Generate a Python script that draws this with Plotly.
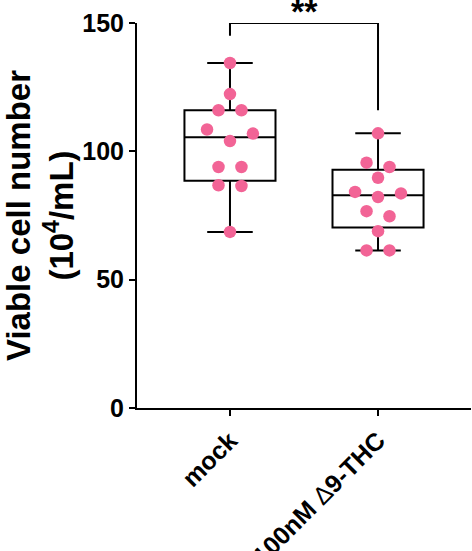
import numpy as np
import plotly.graph_objects as go

# Viable cell counts (10^4 cells/mL), one value per replicate
categories = ["mock", "100nM Δ9-THC"]
mock_counts = [134.4, 122.3, 116.0, 116.0, 108.5, 106.9, 104.0, 93.9, 93.9, 86.8, 86.5, 68.6]
thc_counts = [107.0, 95.6, 93.9, 89.7, 84.2, 83.6, 82.2, 76.7, 74.7, 68.9, 61.4, 61.4]
y_ticks = [0, 50, 100, 150]
significance = "**"

groups = [mock_counts, thc_counts]
tick_text = ["mock", "100nM <span style=\"font-weight:normal\">Δ</span>9-THC"]

PINK = "#F26496"
FONT = "Liberation Sans Narrow, Liberation Sans, Arial, sans-serif"
BOX_WIDTH = 0.615      # x units
SWARM_STEP = 0.155     # horizontal spacing between neighbouring dots, x units
CLUSTER_GAP = 5.0      # values closer than this share a row


def swarm_offsets(values, step, gap):
    """Centre each row of near-equal values around the group position."""
    order = sorted(range(len(values)), key=lambda i: -values[i])
    rows, current = [], []
    for idx in order:
        if current and values[current[0]] - values[idx] > gap:
            rows.append(current)
            current = []
        current.append(idx)
    rows.append(current)

    offsets = np.zeros(len(values))
    for row in rows:
        n = len(row)
        slots = []
        if n % 2 == 0:
            for k in range(n // 2):
                slots += [-(k + 0.5), k + 0.5]
        else:
            for k in range(n // 2):
                slots += [-(k + 1), k + 1]
            slots.append(0)
        for idx, s in zip(row, slots):
            offsets[idx] = s * step
    return offsets


fig = go.Figure()
for i, vals in enumerate(groups):
    arr = np.asarray(vals)
    q1, med, q3 = np.percentile(arr, [25, 50, 75], method="weibull")
    fig.add_trace(go.Box(
        x=[i], q1=[q1], median=[med], q3=[q3],
        lowerfence=[arr.min()], upperfence=[arr.max()],
        width=BOX_WIDTH, whiskerwidth=0.5,
        line=dict(color="black", width=2),
        fillcolor="rgba(0,0,0,0)",
        boxpoints=False, showlegend=False, hoverinfo="skip",
    ))
    fig.add_trace(go.Scatter(
        x=i + swarm_offsets(vals, SWARM_STEP, CLUSTER_GAP), y=vals,
        mode="markers", marker=dict(size=12.5, color=PINK),
        showlegend=False, cliponaxis=False, hoverinfo="skip",
    ))

# Significance bracket between the two groups
bracket_top = 150
left_end, right_end = 145, 116
fig.add_shape(type="path",
              path=f"M 0 {left_end} L 0 {bracket_top} L 1 {bracket_top} L 1 {right_end}",
              line=dict(color="black", width=2), layer="above")
fig.add_annotation(x=0.5, y=bracket_top, text=significance, showarrow=False,
                   yanchor="bottom", yshift=-9,
                   font=dict(family=FONT, size=34, color="black", weight="bold"))

fig.update_layout(
    width=472, height=551,
    margin=dict(l=137, r=1, t=23, b=143, autoexpand=False),
    paper_bgcolor="white", plot_bgcolor="white",
    font=dict(family=FONT, color="black"),
    xaxis=dict(
        range=[-0.628, 1.628], tickvals=[0, 1], ticktext=tick_text,
        tickangle=-45, showline=True, linewidth=2, linecolor="black",
        ticks="outside", ticklen=6, tickwidth=2, tickcolor="black",
        showgrid=False, zeroline=False, automargin=False,
        tickfont=dict(family=FONT, size=25, color="black", weight="bold"),
    ),
    yaxis=dict(
        range=[0, 150], tickvals=y_ticks, showline=True, linewidth=2,
        linecolor="black", ticks="outside", ticklen=6, tickwidth=2,
        tickcolor="black", showgrid=False, zeroline=False, automargin=False,
        tickfont=dict(family=FONT, size=25, color="black", weight="bold"),
        title=dict(text="Viable cell number<br>(10<sup>4</sup>/mL)",
                   font=dict(family=FONT, size=33, color="black", weight="bold"),
                   standoff=10),
    ),
)

fig.write_html("out.html")
